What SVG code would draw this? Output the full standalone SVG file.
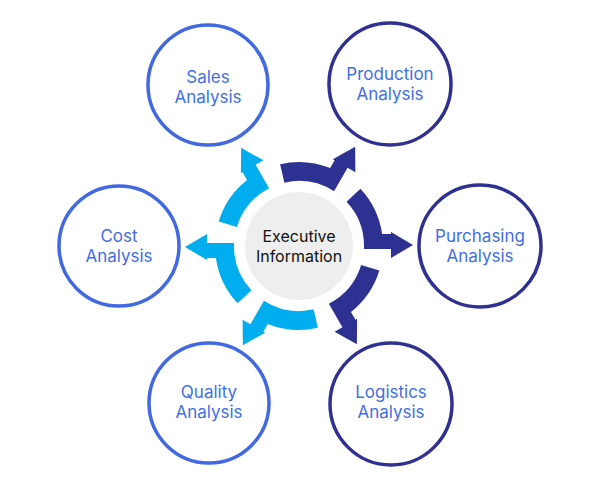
<svg xmlns="http://www.w3.org/2000/svg" width="600" height="492" viewBox="0 0 600 492">
<style>
.node-blue{fill:#fff;stroke:#4169E1;stroke-width:3.5}
.node-navy{fill:#fff;stroke:#2E3192;stroke-width:3.5}
.lbl{font-family:Inter,"Liberation Sans",sans-serif;font-size:17px;fill:#3F6FE6;text-anchor:middle}
.ctr{font-family:Inter,"Liberation Sans",sans-serif;font-size:16px;fill:#111;text-anchor:middle}
.cyan{fill:#00AEEF}
.navy{fill:#2E3192}
</style>
<defs>
<path id="unit" d="M61.43,-57.29 A84,84 0 0 1 83.14,-12 L92,-12 L92,-14 L114,-1 L92,12 L92,3 L64.93,3 A65,65 0 0 0 47.54,-44.33 Z"/>
</defs>
<g id="connectors" transform="translate(299,246)">
<use href="#unit" class="navy"/>
<use href="#unit" class="navy" transform="rotate(-60)"/>
<use href="#unit" class="navy" transform="rotate(60)"/>
<use href="#unit" class="cyan" transform="rotate(120)"/>
<use href="#unit" class="cyan" transform="rotate(180)"/>
<use href="#unit" class="cyan" transform="rotate(240)"/>
</g>
<g id="center">
<circle cx="299" cy="246" r="54" fill="#EEEEEE"/>
<text class="ctr" x="299" y="242">Executive</text>
<text class="ctr" x="299" y="262">Information</text>
</g>
<g id="sales">
<circle class="node-blue" cx="208" cy="85" r="60"/>
<text class="lbl" x="208" y="83">Sales</text>
<text class="lbl" x="208" y="103">Analysis</text>
</g>
<g id="production">
<circle class="node-navy" cx="390" cy="84" r="61"/>
<text class="lbl" x="390" y="80">Production</text>
<text class="lbl" x="390" y="100">Analysis</text>
</g>
<g id="cost">
<circle class="node-blue" cx="119" cy="246" r="60"/>
<text class="lbl" x="119" y="242">Cost</text>
<text class="lbl" x="119" y="262">Analysis</text>
</g>
<g id="purchasing">
<circle class="node-navy" cx="480" cy="246" r="61"/>
<text class="lbl" x="480" y="242">Purchasing</text>
<text class="lbl" x="480" y="262">Analysis</text>
</g>
<g id="quality">
<circle class="node-blue" cx="209" cy="403" r="60"/>
<text class="lbl" x="209" y="398">Quality</text>
<text class="lbl" x="209" y="418">Analysis</text>
</g>
<g id="logistics">
<circle class="node-navy" cx="391" cy="404" r="61"/>
<text class="lbl" x="391" y="398">Logistics</text>
<text class="lbl" x="391" y="418">Analysis</text>
</g>
</svg>
